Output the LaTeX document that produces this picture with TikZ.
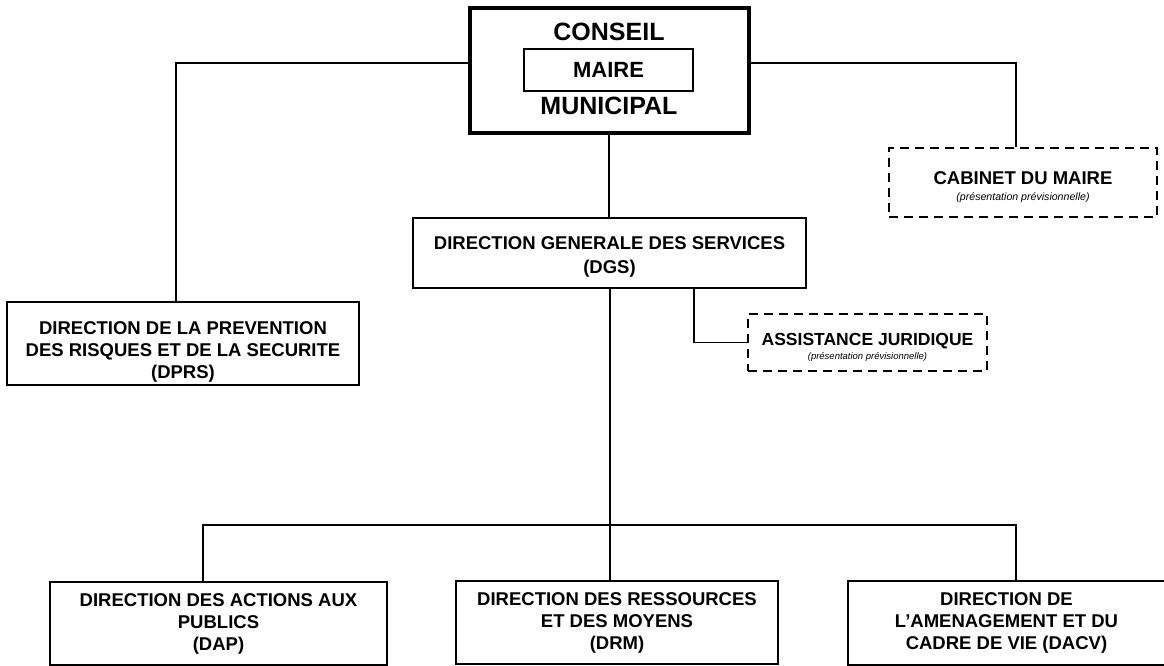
\documentclass[tikz,border=0pt]{standalone}
\usepackage{fontspec}
\setmainfont{Liberation Sans}
\begin{document}
\begin{tikzpicture}[x=1pt,y=-1pt,
  box/.style={draw, line width=1.7pt, rectangle, inner sep=0pt, align=center,
    font=\bfseries\fontsize{18.5}{22}\selectfont},
  dbox/.style={box, line width=2.2pt, dash pattern=on 9pt off 6pt},
  conn/.style={line width=1.7pt},
  bigtxt/.style={inner sep=0pt, font=\bfseries\fontsize{25}{30}\selectfont}]
\useasboundingbox (0,0) rectangle (1164,666);
\fill[white] (0,0) rectangle (1164,666);

% top box
\node[draw, line width=4.5pt, minimum width=279pt, minimum height=125pt, inner sep=0pt] (top) at (609.5,70.5) {};
\node[bigtxt] (conseil) at (609,32) {CONSEIL};
\node[bigtxt] (municipal) at (609,106) {MUNICIPAL};
\node[box, minimum width=169pt, minimum height=42pt, font=\bfseries\fontsize{22}{26}\selectfont] (maire) at (608.5,70) {MAIRE};

% boxes
\node[dbox, minimum width=268pt, minimum height=69pt] (cab) at (1023,182.5)
  {\rule{0pt}{22.5pt}CABINET DU MAIRE\\[-6pt]{\itshape\mdseries\fontsize{10.6}{12}\selectfont (présentation prévisionnelle)}};
\node[box, minimum width=393pt, minimum height=70pt, font=\bfseries\fontsize{18.5}{24}\selectfont] (dgs) at (609.5,253)
  {\rule{0pt}{21pt}DIRECTION GENERALE DES SERVICES\\(DGS)};
\node[box, minimum width=352pt, minimum height=83pt] (dprs) at (183,343.5)
  {\rule{0pt}{29pt}DIRECTION DE LA PREVENTION\\DES RISQUES ET DE LA SECURITE\\(DPRS)};
\node[dbox, minimum width=239pt, minimum height=57pt, font=\bfseries\fontsize{17.5}{21}\selectfont] (asj) at (867.5,342.5)
  {\rule{0pt}{21pt}ASSISTANCE JURIDIQUE\\[-7pt]{\itshape\mdseries\fontsize{9.5}{11}\selectfont (présentation prévisionnelle)}};
\node[box, minimum width=337pt, minimum height=83pt] (dap) at (218.5,623.5)
  {DIRECTION DES ACTIONS AUX\\PUBLICS\\(DAP)};
\node[box, minimum width=322pt, minimum height=83pt] (drm) at (617,622.5)
  {DIRECTION DES RESSOURCES\\ET DES MOYENS\\(DRM)};
\node[box, minimum width=317pt, minimum height=84pt] (dacv) at (1006.5,623)
  {DIRECTION DE\\L’AMENAGEMENT ET DU\\CADRE DE VIE (DACV)};

% connector coordinates
\coordinate (jL) at (176,63);
\coordinate (jR) at (1016,63);
\coordinate (jA) at (694,0);
\coordinate (jT) at (609,0);
\coordinate (bL) at (203,525);
\coordinate (bM) at (610,525);
\coordinate (bR) at (1016,525);

\draw[conn] (top.west |- jL) -| (dprs.north -| jL);
\draw[conn] (top.east |- jR) -| (cab.north -| jR);
\draw[conn] (top.south -| jT) -- (dgs.north -| jT);
\draw[conn] (dgs.south -| bM) -- (drm.north -| bM);
\draw[conn] (dap.north -| bL) |- (bR) -- (dacv.north -| bR);
\draw[conn] (dgs.south -| jA) |- (asj.west);
\end{tikzpicture}
\end{document}
